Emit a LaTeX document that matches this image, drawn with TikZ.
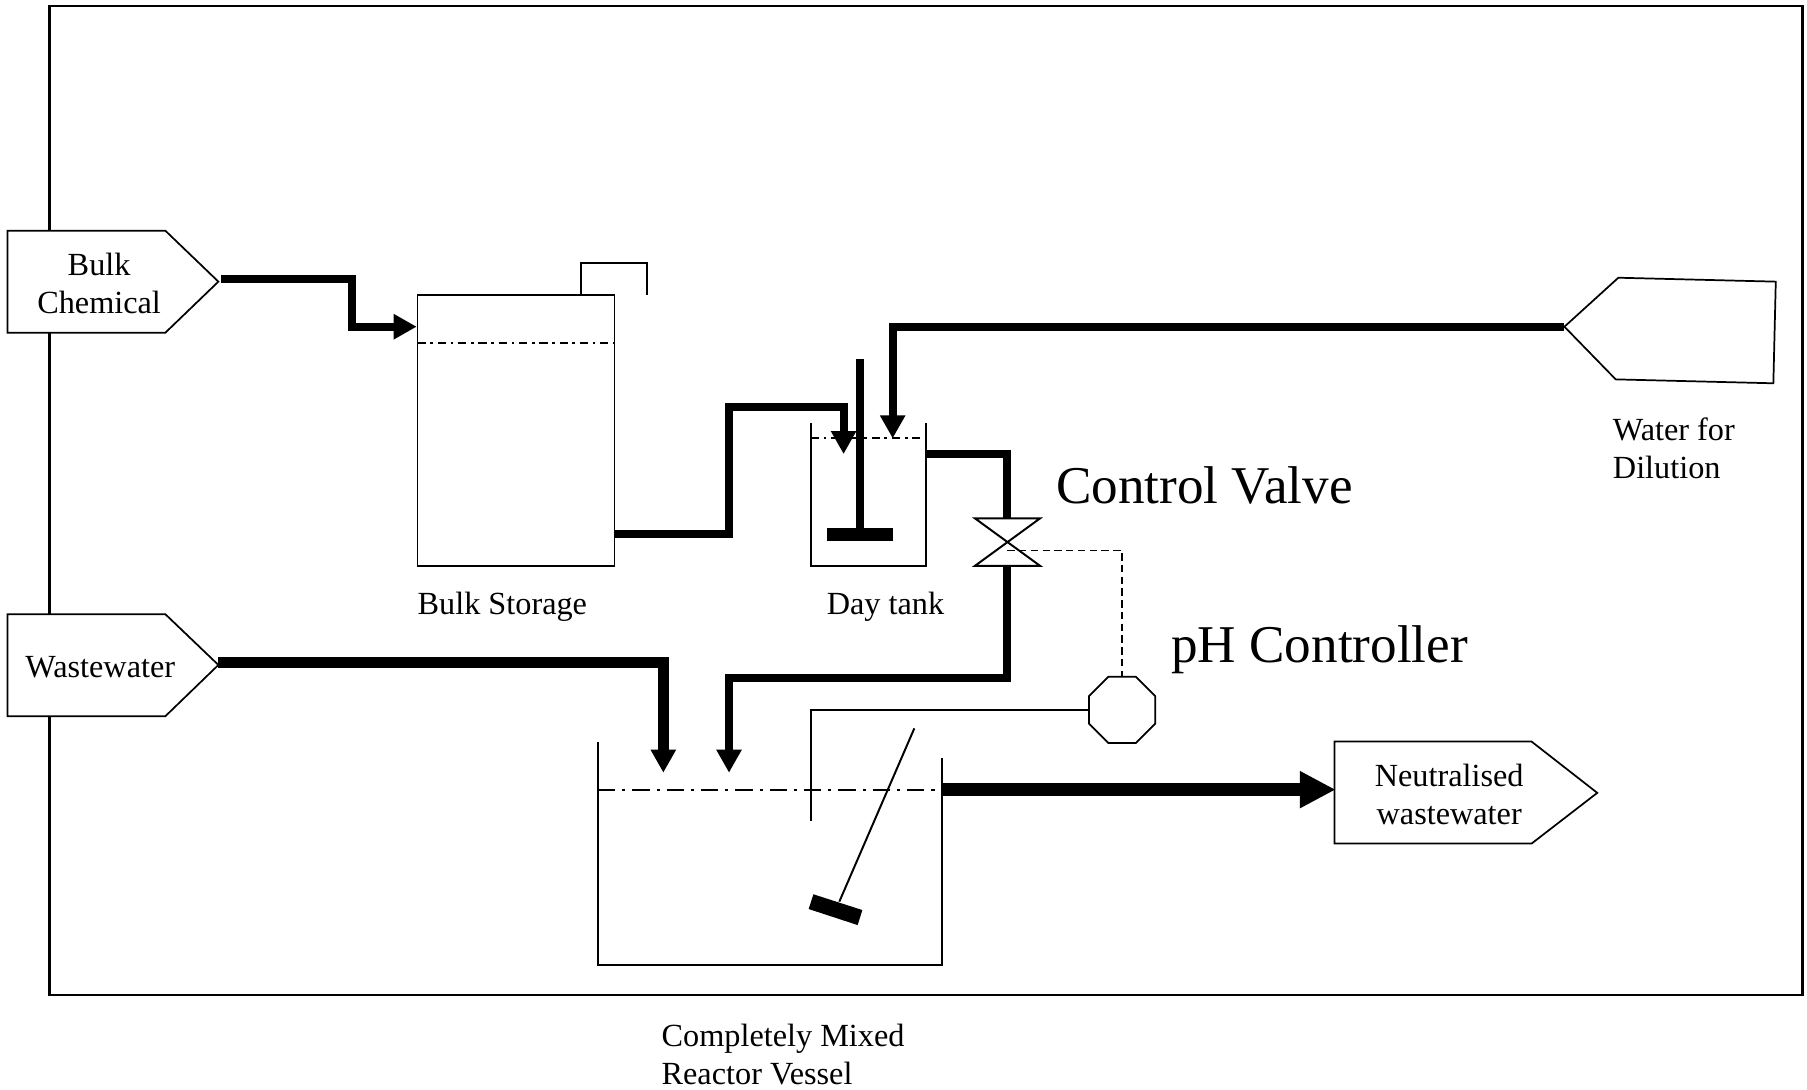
\documentclass[tikz,border=0pt]{standalone}
\usepackage{fontspec}
\setmainfont{Liberation Serif}
\usetikzlibrary{arrows.meta,shapes.geometric}
\tikzset{
  thinline/.style={line width=0.75pt,line join=miter,line cap=butt},
  shell/.style={thinline,fill=white},
  pipe/.style={line width=3.4pt,line join=miter,line cap=butt},
  feed/.style={pipe,-{Triangle[length=10pt,width=10.4pt]}},
  widefeed/.style={line width=4.9pt,line join=miter,-{Triangle[length=10pt,width=10.4pt]}},
  outfeed/.style={line width=5.8pt,-{Triangle[length=15.5pt,width=15pt]}},
  levelbig/.style={line width=0.85pt,dash pattern=on 7.5pt off 3pt on 1.4pt off 3pt},
  levelsmall/.style={line width=0.85pt,dash pattern=on 3.6pt off 2pt on 1.2pt off 2pt},
  sigline/.style={line width=0.65pt,dash pattern=on 3.2pt off 1.9pt},
  ltext/.style={inner sep=0pt,font=\fontsize{14}{16.6}\selectfont,align=left},
  ctext/.style={inner sep=0pt,font=\fontsize{14}{16.6}\selectfont,align=center},
  btext/.style={inner sep=0pt,anchor=base west,font=\fontsize{14}{16.6}\selectfont},
  bigtext/.style={inner sep=0pt,anchor=base west,font=\fontsize{23.05}{27}\selectfont},
}
\begin{document}
\begin{tikzpicture}[x=0.5pt,y=-0.5pt]
\useasboundingbox (0,0) rectangle (1568,945);
% frame
\draw[line width=0.95pt] (43,5.2) rectangle (1564,863.5);

% source / sink tags
\draw[shell] (6.6,200.2) -- (143.5,200.2) -- (189.5,244.4) coordinate (bulkTip) -- (143.5,288.7) -- (6.6,288.7) -- cycle;
\node[ctext] (bulkText) at (86,246) {Bulk\\Chemical};
\draw[shell] (6.6,533) -- (143.5,533) -- (189.5,577) coordinate (wasteTip) -- (143.5,621.5) -- (6.6,621.5) -- cycle;
\node[ctext] (wasteText) at (87,579) {Wastewater};
\draw[shell] (1158,643.5) -- (1329,643.5) -- (1386,688) -- (1329,732) -- (1158,732) -- cycle;
\coordinate (neutIn) at (1159,685.2);
\node[ctext] (neutText) at (1257.5,689.5) {Neutralised\\wastewater};
\draw[shell] (1357.5,283.5) coordinate (waterTip) -- (1404.3,241) -- (1540.9,244.4) -- (1538.8,332.6) -- (1402,329.2) -- cycle;
\node[ltext] (waterText) at (1452.5,389) {Water for\\Dilution};

% bulk storage
\draw[thinline] (362.3,255.7) rectangle (533.2,491);
\coordinate (storeIn) at (361.6,283.5);
\coordinate (storeOut) at (533.2,463.4);
\draw[thinline] (504.4,255.7) -- (504.4,228) -- (561.3,228) -- (561.3,255.7);
\draw[levelsmall] (362.3,297.4) -- (533.2,297.4);
\node[btext] (storeText) at (362,533) {Bulk Storage};

% day tank
\draw[thinline] (703.5,366.8) -- (703.5,491) -- (803.3,491) -- (803.3,366.8);
\draw[levelsmall] (703.5,380.4) -- (803.3,380.4);
\coordinate (dayOut) at (803.3,394.2);
\coordinate (dayInA) at (732,394);
\coordinate (dayInB) at (774.6,380.4);
\draw[line width=3.6pt] (746.3,311.5) -- (746.3,463);
\fill (717.9,458.5) rectangle (774.6,469.2);
\node[btext] (dayText) at (717,533) {Day tank};

% valve
\coordinate (valveTop) at (874.1,449.8);
\coordinate (valveBot) at (874.1,491);
\coordinate (valveSig) at (874.1,477.6);
\draw[line width=0.85pt] (846,449.8) -- (902.5,449.8) -- (846,491) -- (902.5,491) -- cycle;
\node[bigtext] (valveText) at (916,436.5) {Control Valve};

% pH controller
\node[draw,thinline,regular polygon,regular polygon sides=8,minimum size=31.1pt,inner sep=0pt] (ctrl) at (973.7,616) {};
\node[bigtext] (ctrlText) at (1016,575) {pH Controller};
\coordinate (probeEnd) at (703.5,712.4);
\draw[thinline] (ctrl.west) -- (703.5,616) -- (probeEnd);
\draw[sigline] (valveSig) -- (973.7,477.6) -- (ctrl.north);

% reactor
\draw[thinline] (518.9,644.2) -- (518.9,837.4) -- (817.4,837.4) -- (817.4,658);
\draw[levelbig] (518.9,685.2) -- (817.4,685.2);
\coordinate (reactA) at (575.6,670.5);
\coordinate (reactB) at (632.6,670.5);
\coordinate (reactOut) at (817.4,685.2);
\draw[line width=0.85pt] (793.4,632) -- (728.3,782.4);
\fill (705.8,776) -- (748.3,789.7) -- (744.2,802.7) -- (701.7,788.8) -- cycle;
\node[ltext] (reactText) at (679.5,915) {Completely Mixed\\Reactor Vessel};

% connectors
\coordinate (bulkOut) at (191.7,242.1);
\draw[feed] (bulkOut) -- (305.3,242.1) -- (305.3,283.5) -- (storeIn);
\draw[feed] (storeOut) -- (632.5,463.4) -- (632.5,352.9) -- (732,352.9) -- (dayInA);
\draw[feed] (waterTip) -- (774.6,283.5) -- (dayInB);
\draw[pipe] (dayOut) -- (874.1,394.2) -- (valveTop);
\draw[feed] (valveBot) -- (874.1,588.6) -- (632.6,588.6) -- (reactB);
\draw[widefeed] (wasteTip |- 0,575) -- (575.6,575) -- (reactA);
\draw[outfeed] (reactOut) -- (neutIn);
\end{tikzpicture}
\end{document}
